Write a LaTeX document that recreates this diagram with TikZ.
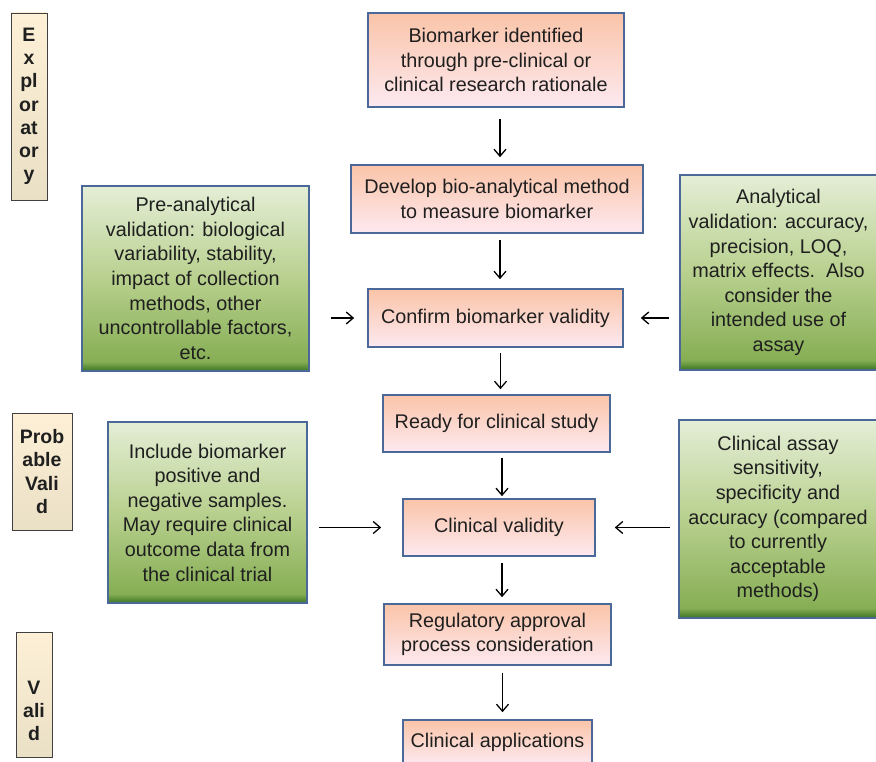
\documentclass[tikz,border=0pt]{standalone}
\usepackage{fontspec}
\setmainfont{Liberation Sans}
\usetikzlibrary{arrows.meta}

\definecolor{boxline}{RGB}{74,104,152}
\definecolor{peach}{RGB}{250,196,168}
\definecolor{blush}{RGB}{253,233,240}
\definecolor{leafhi}{RGB}{228,238,214}
\definecolor{leafmid}{RGB}{184,208,142}
\definecolor{leaflo}{RGB}{134,174,84}
\definecolor{leafdk}{RGB}{58,116,34}
\definecolor{sandhi}{RGB}{253,240,214}
\definecolor{sandlo}{RGB}{234,224,198}
\pgfdeclareverticalshading{leafshade}{100bp}{color(0bp)=(leafdk); color(25bp)=(leafdk); color(27.5bp)=(leaflo); color(50bp)=(leafmid); color(75bp)=(leafhi); color(100bp)=(leafhi)}

\begin{document}
\begin{tikzpicture}[x=1pt,y=-1pt,>={Straight Barb[length=7pt,width=12pt]},
  every node/.style={font=\fontsize{19.8}{24.6}\selectfont,text=black!88,align=center,inner sep=0pt},
  stagebox/.style={draw=boxline,line width=1.6pt,top color=peach,bottom color=blush},
  notebox/.style={draw=boxline,line width=1.6pt,shading=leafshade},
  phasebox/.style={draw=black!75,line width=0.9pt,top color=sandhi,bottom color=sandlo},
  phasetext/.style={font=\fontsize{19.5}{23.2}\selectfont\bfseries},
  flow/.style={->,line width=1.3pt}]
  \clip (0,0) rectangle (876,762);

  \node[phasebox,phasetext,minimum width=36,minimum height=187] (explor) at (29,106.5) {E\\x\\pl\\or\\at\\or\\y};
  \node[phasebox,phasetext,minimum width=60,minimum height=117] (probable) at (42,471.5) {Prob\\able\\Vali\\d};
  \node[phasebox,minimum width=36,minimum height=125] (valid) at (34,694.5) {};
  \node[phasetext] (validtxt) at (34,711) {V\\ali\\d};

  \node[stagebox,minimum width=256,minimum height=94] (ident) at (496,60) {Biomarker identified\\through pre-clinical or\\clinical research rationale};
  \node[stagebox,minimum width=292,minimum height=68] (develop) at (497,199) {Develop bio-analytical method\\to measure biomarker};
  \node[stagebox,minimum width=255,minimum height=58] (confirm) at (495.5,318) {Confirm biomarker validity};
  \node[stagebox,minimum width=227,minimum height=57] (ready) at (496.5,423.5) {Ready for clinical study};
  \node[stagebox,minimum width=192,minimum height=57] (clinval) at (499,527.5) {Clinical validity};
  \node[stagebox,minimum width=227,minimum height=61] (regul) at (497.5,634.5) {Regulatory approval\\process consideration};
  \node[stagebox,minimum width=189,minimum height=44] (apps) at (497.5,742) {Clinical applications};

  \node[notebox,minimum width=227,minimum height=185] (preana) at (195.5,278.5) {Pre-analytical\\validation: biological\\variability, stability,\\impact of collection\\methods, other\\uncontrollable factors,\\etc.};
  \node[notebox,minimum width=197,minimum height=195] (analyt) at (778.5,272.5) {Analytical\\validation: accuracy,\\precision, LOQ,\\matrix effects.\ \ Also\\consider the\\intended use of\\assay};
  \node[notebox,minimum width=199,minimum height=181] (samples) at (207.5,512.5) {Include biomarker\\positive and\\negative samples.\\May require clinical\\outcome data from\\the clinical trial};
  \node[notebox,minimum width=198,minimum height=198] (assay) at (778,519) {Clinical assay\\sensitivity,\\specificity and\\accuracy (compared\\to currently\\acceptable\\methods)};

  \draw[flow,shorten <=11pt,shorten >=7pt] ([xshift=4pt]ident.south) -- ([xshift=3pt]develop.north);
  \draw[flow,shorten <=6pt,shorten >=9pt] ([xshift=3pt]develop.south) -- ([xshift=4.5pt]confirm.north);
  \draw[flow,shorten <=5pt,shorten >=5pt] ([xshift=5pt]confirm.south) -- ([xshift=4pt]ready.north);
  \draw[flow,shorten <=5pt,shorten >=2pt] ([xshift=5.5pt]ready.south) -- ([xshift=3pt]clinval.north);
  \draw[flow,shorten <=6pt,shorten >=6pt] ([xshift=3pt]clinval.south) -- ([xshift=4.5pt]regul.north);
  \draw[flow,shorten <=7pt,shorten >=7pt] ([xshift=5pt]regul.south) -- ([xshift=5pt]apps.north);
  \draw[flow,shorten <=21pt,shorten >=13pt] (preana.east |- confirm) -- (confirm.west);
  \draw[flow,shorten <=10pt,shorten >=17pt] (analyt.west |- confirm) -- (confirm.east);
  \draw[flow,shorten <=11pt,shorten >=21pt] (samples.east |- clinval) -- (clinval.west);
  \draw[flow,shorten <=8pt,shorten >=19pt] (assay.west |- clinval) -- (clinval.east);
\end{tikzpicture}
\end{document}
